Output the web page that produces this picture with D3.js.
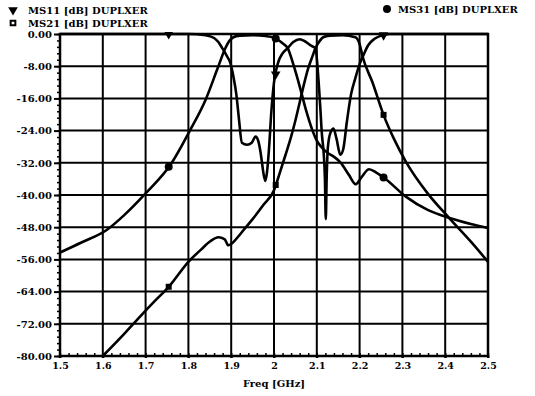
<!DOCTYPE html>
<html>
<head>
<meta charset="utf-8">
<script src="https://cdn.jsdelivr.net/npm/d3@7"></script>
<style>
  body { margin: 0; background: #fff; }
  text { font-family: "DejaVu Serif", "Liberation Serif", serif; font-weight: bold; fill: #000; }
</style>
</head>
<body>
<div id="my_dataviz"></div>
<script>

// axis ticks
var xTicks = [1.5, 1.6, 1.7, 1.8, 1.9, 2.0, 2.1, 2.2, 2.3, 2.4, 2.5];
var xLabels = ["1.5", "1.6", "1.7", "1.8", "1.9", "2", "2.1", "2.2", "2.3", "2.4", "2.5"];
var yTicks = [0, -8, -16, -24, -32, -40, -48, -56, -64, -72, -80];
var yLabels = ["0.00", "-8.00", "-16.00", "-24.00", "-32.00", "-40.00", "-48.00", "-56.00", "-64.00", "-72.00", "-80.00"];

// MS11 [dB]
var s11Freq = [1.5, 1.6, 1.7, 1.8, 1.84, 1.86, 1.87, 1.879, 1.89, 1.898, 1.905, 1.912, 1.918, 1.925,
  1.937, 1.948, 1.957, 1.963, 1.968, 1.972, 1.976, 1.98, 1.984, 1.988, 1.994, 2.0, 2.01, 2.02, 2.032,
  2.045, 2.06, 2.072, 2.085, 2.097, 2.103, 2.108, 2.112, 2.116, 2.119, 2.121, 2.123, 2.126, 2.132,
  2.139, 2.146, 2.155, 2.162, 2.17, 2.18, 2.19, 2.2, 2.21, 2.22, 2.235, 2.25, 2.27, 2.35, 2.5];
var s11 = [0, 0, 0, 0, -0.3, -1, -2, -3.5, -5.5, -7.2, -10.5, -15, -21, -27,
  -27.5, -27, -25.5, -26.5, -29, -32, -35, -36.5, -34, -29, -19, -12, -7, -4.8, -3.5,
  -2, -1.3, -1.8, -2.8, -3.6, -10, -18, -25, -29.5, -36, -46, -36, -28, -24.5,
  -23.5, -26, -30, -28.5, -22, -15, -11, -7.5, -5, -2.8, -1.2, -0.4, 0, 0, 0];

// MS21 [dB]
var s21Freq = [1.6, 1.65, 1.687, 1.72, 1.754, 1.8, 1.83, 1.851, 1.87, 1.885, 1.893, 1.902, 1.915,
  1.929, 1.95, 1.975, 2.0, 2.015, 2.027, 2.04, 2.05, 2.06, 2.07, 2.08, 2.09, 2.097, 2.105, 2.115,
  2.13, 2.16, 2.19, 2.2, 2.207, 2.23, 2.257, 2.28, 2.308, 2.359, 2.41, 2.46, 2.5];
var s21 = [-80, -74.5, -70.2, -66.5, -62.8, -56.6, -53.5, -51.5, -50.5, -51, -52.5, -52, -50.5,
  -48.7, -46, -42.5, -38.8, -34, -30, -25.5, -21.5, -17, -12.5, -8.5, -5.5, -3.5, -2, -0.8,
  -0.4, -0.3, -0.8, -2.5, -5.6, -12, -20.4, -26, -31.7, -39.6, -45.8, -51.6, -56.6];

// MS31 [dB]
var s31Freq = [1.5, 1.55, 1.609, 1.65, 1.7, 1.758, 1.804, 1.84, 1.867, 1.886, 1.895, 1.905, 1.92,
  1.95, 1.98, 2.0, 2.01, 2.02, 2.032, 2.045, 2.06, 2.075, 2.09, 2.1, 2.11, 2.125, 2.14, 2.156,
  2.175, 2.191, 2.205, 2.222, 2.24, 2.257, 2.308, 2.359, 2.41, 2.46, 2.5];
var s31 = [-54.3, -51.8, -48.7, -45, -39.6, -32.5, -23.9, -16.4, -8.9, -3.6, -1.8, -0.8, -0.4,
  -0.3, -0.5, -0.9, -1.5, -2.3, -3.5, -7.5, -13, -19, -24, -26.5, -28, -29.5, -30.5, -32,
  -35, -37.3, -35.5, -33.6, -34.5, -35.7, -40.4, -43.7, -45.7, -47.2, -48.2];

// marker frequencies (same for every trace)
var markerFreq = [1.754, 2.004, 2.256];

var margin = {top: 34, right: 47, bottom: 40, left: 60},
    width = 535 - margin.left - margin.right,
    height = 396 - margin.top - margin.bottom;

var svg = d3.select("#my_dataviz")
  .append("svg")
    .attr("width", 535)
    .attr("height", 396);

var g = svg.append("g")
    .attr("transform", "translate(" + margin.left + "," + margin.top + ")");

var x = d3.scaleLinear().domain([1.5, 2.5]).range([0, width]);
var y = d3.scaleLinear().domain([-80, 0]).range([height, 0]);

// minor tick positions
var xMinor = d3.range(0, 51).map(function(i) { return 1.5 + i * 0.02; });
var yMinor = d3.range(0, 51).map(function(i) { return -i * 1.6; });

// grid
g.selectAll("vgrid")
  .data(xTicks)
  .enter()
  .append("line")
    .attr("x1", function(d) { return x(d); })
    .attr("x2", function(d) { return x(d); })
    .attr("y1", 0)
    .attr("y2", height + 2)
    .attr("stroke", "#000")
    .attr("stroke-width", 2);

g.selectAll("hgrid")
  .data(yTicks)
  .enter()
  .append("line")
    .attr("x1", 0)
    .attr("x2", width)
    .attr("y1", function(d) { return y(d); })
    .attr("y2", function(d) { return y(d); })
    .attr("stroke", "#000")
    .attr("stroke-width", 2);

// left axis, major + minor ticks
var yAxis = g.append("g")
  .call(d3.axisLeft(y).tickValues(yTicks).tickSize(6).tickPadding(3)
    .tickFormat(function(d, i) { return yLabels[i]; }));
yAxis.select(".domain").remove();
yAxis.selectAll("line").attr("stroke-width", 2);
yAxis.selectAll("text").style("font-size", "10px").attr("x", -8);

var yMinorAxis = g.append("g")
  .call(d3.axisLeft(y).tickValues(yMinor).tickSize(3).tickFormat(""));
yMinorAxis.select(".domain").remove();
yMinorAxis.selectAll("line").attr("stroke-width", 1.5);

// bottom axis
var xAxis = g.append("g")
  .attr("transform", "translate(0," + height + ")")
  .call(d3.axisBottom(x).tickValues(xTicks).tickSize(2).tickPadding(4)
    .tickFormat(function(d, i) { return xLabels[i]; }));
xAxis.select(".domain").remove();
xAxis.selectAll("line").attr("stroke-width", 2);
xAxis.selectAll("text").style("font-size", "9.5px");

var xMinorAxis = g.append("g")
  .attr("transform", "translate(0," + height + ")")
  .call(d3.axisTop(x).tickValues(xMinor).tickSize(3).tickFormat(""));
xMinorAxis.select(".domain").remove();
xMinorAxis.selectAll("line").attr("stroke-width", 1.5);

// frame
g.append("rect")
  .attr("width", width)
  .attr("height", height)
  .attr("fill", "none")
  .attr("stroke", "#000")
  .attr("stroke-width", 2.5);

g.append("text")
  .attr("x", x(2.0))
  .attr("y", height + 31)
  .attr("text-anchor", "middle")
  .style("font-size", "10px")
  .text("Freq [GHz]");

// traces
svg.append("clipPath").attr("id", "clip")
  .append("rect").attr("x", 0).attr("y", -2).attr("width", width).attr("height", height + 2);

var plot = g.append("g").attr("clip-path", "url(#clip)");

var line = d3.line()
  .x(function(d) { return x(d[0]); })
  .y(function(d) { return y(d[1]); })
  .curve(d3.curveMonotoneX);

function pairs(f, v) { return f.map(function(d, i) { return [d, v[i]]; }); }

function valueAt(f, v, fr) {
  var i = d3.bisectLeft(f, fr);
  if (i <= 0) return v[0];
  if (i >= f.length) return v[v.length - 1];
  var t = (fr - f[i - 1]) / (f[i] - f[i - 1]);
  return v[i - 1] + t * (v[i] - v[i - 1]);
}

var traces = [
  {name: "MS11 [dB] DUPLXER", f: s11Freq, v: s11, mark: d3.symbolTriangle, rot: 180, size: 40},
  {name: "MS21 [dB] DUPLXER", f: s21Freq, v: s21, mark: d3.symbolSquare, rot: 0, size: 36},
  {name: "MS31 [dB] DUPLXER", f: s31Freq, v: s31, mark: d3.symbolCircle, rot: 0, size: 50}
];

traces.forEach(function(t) {
  plot.append("path")
    .datum(pairs(t.f, t.v))
    .attr("fill", "none")
    .attr("stroke", "#000")
    .attr("stroke-width", 2.6)
    .attr("stroke-linejoin", "round")
    .attr("d", line);

  plot.selectAll("mk")
    .data(markerFreq)
    .enter()
    .append("path")
      .attr("d", d3.symbol().type(t.mark).size(t.size))
      .attr("transform", function(d) {
        return "translate(" + x(d) + "," + y(valueAt(t.f, t.v, d)) + ") rotate(" + t.rot + ")";
      })
      .attr("fill", "#000");
});

// legend
var legendPos = [[13, 10, 28, 14], [13, 23, 28, 27], [387, 9, 398, 13]];

traces.forEach(function(t, i) {
  var p = legendPos[i];
  var sym = svg.append("path")
    .attr("d", d3.symbol().type(t.mark).size(t.size))
    .attr("transform", "translate(" + p[0] + "," + p[1] + ") rotate(" + t.rot + ")");
  if (t.mark === d3.symbolSquare) {
    sym.attr("fill", "#fff").attr("stroke", "#000").attr("stroke-width", 2)
      .attr("d", d3.symbol().type(t.mark).size(22));
  } else {
    sym.attr("fill", "#000");
  }
  svg.append("text")
    .attr("x", p[2])
    .attr("y", p[3])
    .style("font-size", "10px")
    .text(t.name);
});

</script>
</body>
</html>
